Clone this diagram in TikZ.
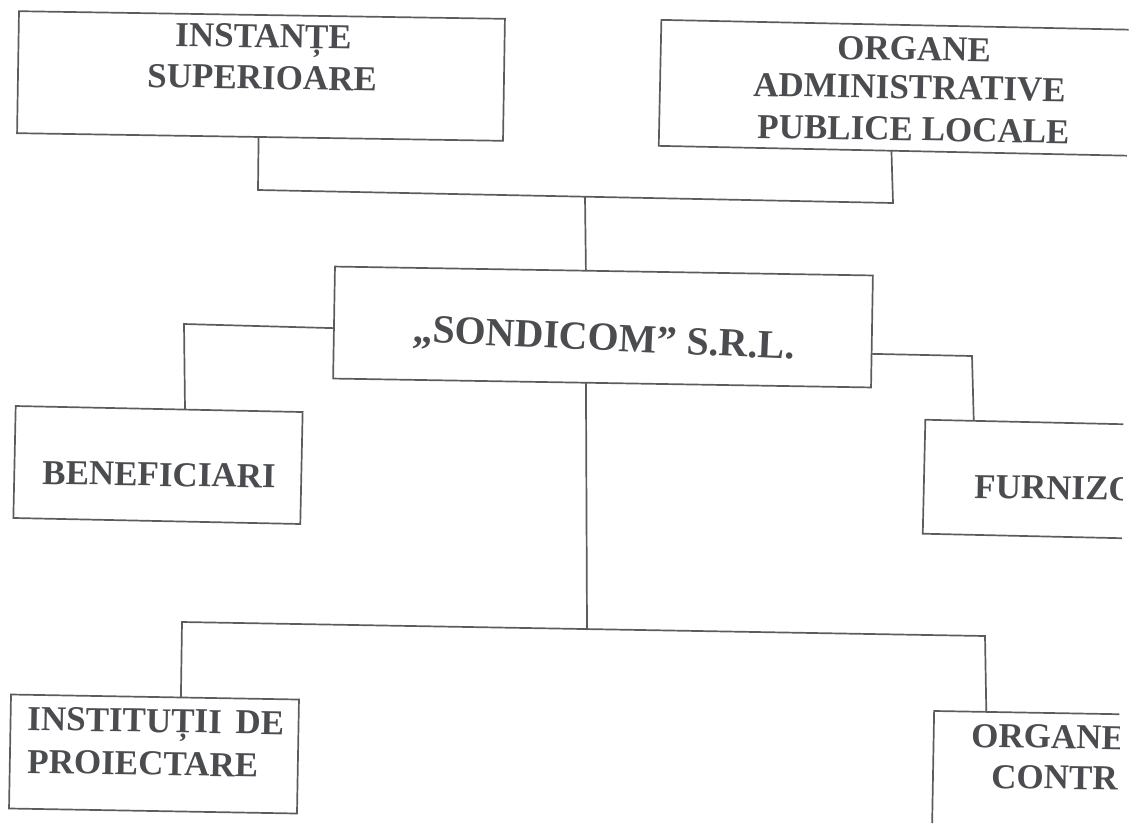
\documentclass[tikz,border=0pt]{standalone}
\usepackage{fontspec}
\setmainfont{Liberation Serif}
\usetikzlibrary{calc}
\definecolor{ink}{HTML}{4A4C50}
\definecolor{wire}{HTML}{5A5C60}
\tikzset{
  box/.style={draw=wire,line width=1.7pt,fill=none,inner sep=0pt,outer sep=0pt,rectangle},
  wirel/.style={draw=wire,line width=1.7pt,line join=miter},
  lab/.style={anchor=base west,inner sep=0pt,text=ink,font=\bfseries\fontsize{35}{35}\selectfont,rotate=-1},
  biglab/.style={lab,font=\bfseries\fontsize{40}{40}\selectfont,rotate=-1.6}
}
\begin{document}
\begin{tikzpicture}[x=1pt,y=-1pt]
\useasboundingbox (0,0) rectangle (1137,823);
\begin{scope}
\clip (0,0) -- (1129,0) -- (1118,823) -- (0,823) -- cycle;
\node[box,minimum width=486pt,minimum height=122pt,rotate=-0.9] (A) at (261,76) {};
\node[box,minimum width=490pt,minimum height=126pt,rotate=-1.2] (B) at (905,88) {};
\node[box,minimum width=538pt,minimum height=112pt,rotate=-0.95] (C) at (603,327) {};
\node[box,minimum width=287pt,minimum height=112pt,rotate=-1.2] (D) at (158,465) {};
\node[box,minimum width=290pt,minimum height=114pt,rotate=-1.3] (E) at (1069,480) {};
\node[box,minimum width=288pt,minimum height=114pt,rotate=-1] (F) at (154,754) {};
\node[box,minimum width=290pt,minimum height=125pt,rotate=-1] (G) at (1078,776) {};
\node[lab] (l1) at (175,46) {INSTANȚE};
\node[lab] (l2) at (147,87) {SUPERIOARE};
\node[lab] (l3) at (837,59) {ORGANE};
\node[lab] (l4) at (753,96) {ADMINISTRATIVE};
\node[lab] (l5) at (757,138) {PUBLICE LOCALE};
\node[biglab] (l6) at (412,342) {„SONDICOM” S.R.L.};
\node[lab] (l7) at (42,484) {BENEFICIARI};
\node[lab] (l8) at (974,498) {FURNIZORI};
\node[lab] (l9) at (27,730) {INSTITUȚII\hspace{5pt} DE};
\node[lab] (l10) at (27,773) {PROIECTARE};
\node[lab] (l11) at (971,747) {ORGANE};
\node[lab] (l12) at (991,788) {CONTROL};
\end{scope}
\coordinate (j1) at (258,190);
\coordinate (j2) at (893,203);
\coordinate (j3) at (585,197);
\coordinate (k1) at (184,324);
\coordinate (k2) at (972,356);
\coordinate (m1) at (587,630);
\coordinate (b1) at (182,622);
\coordinate (b2) at (985,636);
\draw[wirel] ($(A.south west)!.497!(A.south east)$) -- (j1) -- (j2) -- ($(B.south west)!.475!(B.south east)$);
\draw[wirel] (j3) -- ($(C.north west)!.4665!(C.north east)$);
\draw[wirel] ($(C.north west)!.55!(C.south west)$) -- (k1) -- ($(D.north west)!.59!(D.north east)$);
\draw[wirel] ($(C.north east)!.7!(C.south east)$) -- (k2) -- ($(E.north west)!.167!(E.north east)$);
\draw[wirel] ($(C.south west)!.47!(C.south east)$) -- (m1);
\draw[wirel] ($(F.north west)!.59!(F.north east)$) -- (b1) -- (b2) -- ($(G.north west)!.18!(G.north east)$);
\end{tikzpicture}
\end{document}
